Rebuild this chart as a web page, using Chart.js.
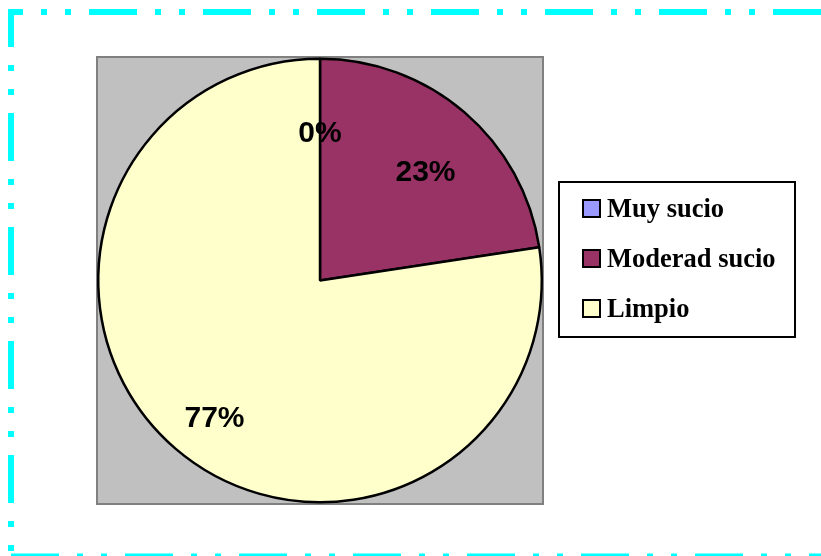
<!DOCTYPE html>
<html>
<head>
<meta charset="utf-8">
<script src="https://cdn.jsdelivr.net/npm/chart.js@4"></script>
<style>
html,body{margin:0;padding:0;background:#fff;}
canvas{display:block;}
</style>
</head>
<body>
<canvas id="c" width="821" height="556"></canvas>
<script>
const categories = ["Muy sucio", "Moderad sucio", "Limpio"];
const values = [0, 22.6, 77.4];
const percentLabels = ["0%", "23%", "77%"];
const colors = ["#9999FF", "#993366", "#FFFFCC"];

function dashLine(ctx, x1, y1, x2, y2, offset) {
  ctx.beginPath();
  ctx.lineDashOffset = offset;
  ctx.moveTo(x1, y1);
  ctx.lineTo(x2, y2);
  ctx.stroke();
}

const frame = {
  id: 'frame',
  beforeDraw(chart) {
    const ctx = chart.ctx;
    const a = chart.chartArea;
    ctx.save();
    ctx.fillStyle = '#fff';
    ctx.fillRect(0, 0, chart.width, chart.height);
    // outer cyan dash-dot border
    ctx.strokeStyle = '#00FFFF';
    ctx.lineWidth = 6;
    ctx.lineCap = 'butt';
    ctx.setLineDash([48, 18, 6, 18, 6, 18]);
    dashLine(ctx, 8, 12, chart.width + 10, 12, 33);
    dashLine(ctx, 11, 9, 11, chart.height + 10, 10);
    dashLine(ctx, 11, 556.5, chart.width + 10, 556.5, 0);
    ctx.setLineDash([]);
    // plot area
    ctx.fillStyle = '#C0C0C0';
    ctx.fillRect(a.left, a.top, a.right - a.left, a.bottom - a.top);
    ctx.strokeStyle = '#808080';
    ctx.lineWidth = 2;
    ctx.strokeRect(a.left, a.top, a.right - a.left, a.bottom - a.top);
    ctx.restore();
  },
  afterDraw(chart) {
    const ctx = chart.ctx;
    const meta = chart.getDatasetMeta(0);
    ctx.save();
    ctx.font = 'bold 30px "Liberation Sans", Arial, sans-serif';
    ctx.fillStyle = '#000';
    ctx.textAlign = 'center';
    ctx.textBaseline = 'top';
    meta.data.forEach((arc, i) => {
      const p = arc.getProps(['x', 'y', 'startAngle', 'endAngle', 'outerRadius'], true);
      const mid = (p.startAngle + p.endAngle) / 2;
      const r = p.outerRadius * 0.73;
      ctx.fillText(percentLabels[i], p.x + Math.cos(mid) * r, p.y + Math.sin(mid) * r);
    });
    // legend box
    const lx = 559, ly = 182, lw = 236, lh = 155;
    ctx.fillStyle = '#fff';
    ctx.fillRect(lx, ly, lw, lh);
    ctx.strokeStyle = '#000';
    ctx.lineWidth = 2;
    ctx.strokeRect(lx, ly, lw, lh);
    ctx.font = 'bold 26.5px "Liberation Serif", "Times New Roman", serif';
    ctx.textAlign = 'left';
    ctx.textBaseline = 'alphabetic';
    categories.forEach((name, i) => {
      const y = 217 + i * 50;
      ctx.fillStyle = colors[i];
      ctx.fillRect(583, y - 17, 17, 17);
      ctx.strokeStyle = '#000';
      ctx.lineWidth = 2;
      ctx.strokeRect(583, y - 17, 17, 17);
      ctx.fillStyle = '#000';
      ctx.fillText(name, 607, y);
    });
    ctx.restore();
  }
};

new Chart(document.getElementById('c'), {
  type: 'pie',
  data: {
    labels: categories,
    datasets: [{
      data: values,
      backgroundColor: colors,
      borderColor: '#000',
      borderWidth: 2.5
    }]
  },
  options: {
    responsive: false,
    animation: false,
    layout: { padding: { left: 97, top: 57, right: 278, bottom: 52 } },
    plugins: { legend: { display: false }, tooltip: { enabled: false } }
  },
  plugins: [frame]
});
</script>
</body>
</html>
